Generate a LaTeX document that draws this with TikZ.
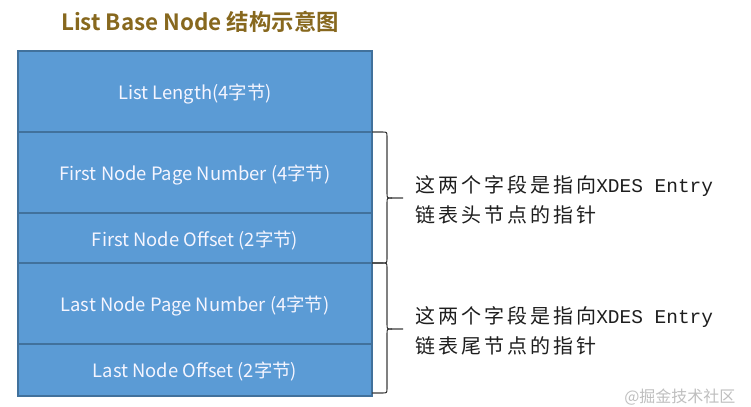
\documentclass[tikz,border=0pt]{standalone}
\usepackage{fontspec}
\setmainfont{Noto Sans CJK SC}[BoldFont={Noto Sans CJK SC Bold}]
\newfontfamily\cjkhand[LetterSpace=15]{Noto Sans CJK SC}
\newfontfamily\monolat{Liberation Mono}
\definecolor{rowblue}{RGB}{91,155,213}
\definecolor{rowedge}{RGB}{65,113,156}
\definecolor{titlegold}{RGB}{135,104,30}
\definecolor{bracegray}{RGB}{60,60,60}
\definecolor{notetext}{RGB}{30,30,30}
\tikzset{
  rowbox/.style={draw=rowedge, fill=rowblue, line width=0.9pt, minimum width=265.5pt, outer sep=0pt, inner sep=0pt, text=white!96!blue, font=\fontsize{13.8}{16}\selectfont},
  rowtext/.style={inner sep=0pt, text=white!96!blue, font=\fontsize{13.8}{16}\selectfont},
  bracepen/.style={draw=bracegray, line width=0.8pt},
  notestyle/.style={anchor=west, inner sep=0pt, text=notetext, font=\fontsize{15}{18}\selectfont}
}
\newcommand\mybrace[3]{%
  \draw[bracepen] (372,#1) -- (382,#1) .. controls (387,#1) .. (387,{#1+5}) -- (387,{#2-5}) .. controls (387,#2) .. (392,#2) -- (403,#2);
  \draw[bracepen] (392,#2) .. controls (387,#2) .. (387,{#2+5}) -- (387,{#3-5}) .. controls (387,#3) .. (382,#3) -- (372,#3);
}
\begin{document}
\begin{tikzpicture}[x=0.75pt, y=-0.75pt]
\useasboundingbox (0,0) rectangle (751,407);
\fill[white] (0,0) rectangle (751,407);
\node[text=titlegold, font=\bfseries\fontsize{16.8}{20}\selectfont] (title) at (200,22) {List Base Node 结构示意图};
\node[rowbox, minimum height=60.75pt] (r1) at (195,91.5) {};
\node[rowbox, minimum height=60.75pt] (r2) at (195,172.5) {};
\node[rowbox, minimum height=37.5pt] (r3) at (195,238) {};
\node[rowbox, minimum height=60.75pt] (r4) at (195,303.5) {};
\node[rowbox, minimum height=39pt] (r5) at (195,370) {};
\node[rowtext] (t1) at (195,94) {List Length(4字节)};
\node[rowtext] (t2) at (195,175) {First Node Page Number (4字节)};
\node[rowtext] (t3) at (195,241) {First Node Offset (2字节)};
\node[rowtext] (t4) at (195,306) {Last Node Page Number (4字节)};
\node[rowtext] (t5) at (195,372) {Last Node Offset (2字节)};
\mybrace{132}{198}{263}
\mybrace{263}{329}{393}
\node[notestyle] (n1a) at (415,186) {\cjkhand 这两个字段是指向{\monolat\fontsize{14.6}{18}\selectfont XDES Entry}};
\node[notestyle] (n1b) at (415,215) {\cjkhand 链表头节点的指针};
\node[notestyle] (n2a) at (415,317) {\cjkhand 这两个字段是指向{\monolat\fontsize{14.6}{18}\selectfont XDES Entry}};
\node[notestyle] (n2b) at (415,346) {\cjkhand 链表尾节点的指针};
\node[anchor=south west, inner sep=0pt, text=black!25, font=\fontsize{12}{14}\selectfont] (wm) at (624,406) {@掘金技术社区};
\end{tikzpicture}
\end{document}
